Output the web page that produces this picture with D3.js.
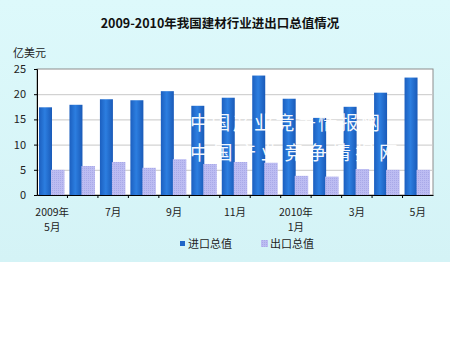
<!DOCTYPE html>
<html><head><meta charset="utf-8">
<script src="https://cdn.jsdelivr.net/npm/d3@7"></script>
<style>body{margin:0;background:#fff}svg{display:block}</style>
</head><body>
<svg id="c" width="450" height="355"></svg>
<script>
const months = ["2009-05","2009-06","2009-07","2009-08","2009-09","2009-10","2009-11","2009-12","2010-01","2010-02","2010-03","2010-04","2010-05"];
const importVals = [17.4,17.9,19.0,18.8,20.6,17.7,19.3,23.7,19.1,15.3,17.5,20.3,23.3];
const exportVals = [5.0,5.75,6.55,5.4,7.1,6.15,6.55,6.4,3.8,3.65,5.15,5.0,5.0];
const xLabels = [["2009年","5月"],null,["7月"],null,["9月"],null,["11月"],null,["2010年","1月"],null,["3月"],null,["5月"]];
const yTicks = [0,5,10,15,20,25];
const seriesNames = ["进口总值","出口总值"];
const title = "2009-2010年我国建材行业进出口总值情况";
const unit = "亿美元";
const watermark = ["中国产业竞争情报网","中国产业竞争情报网"];

const svg = d3.select("#c");
const font = "'Noto Sans CJK SC', 'DejaVu Sans', sans-serif";
const defs = svg.append("defs");
const bg = defs.append("linearGradient").attr("id","bg").attr("x1",0).attr("y1",0).attr("x2",0).attr("y2",1);
bg.append("stop").attr("offset","0%").attr("stop-color","#ddf9fb");
bg.append("stop").attr("offset","100%").attr("stop-color","#d4f3f6");
const bl = defs.append("linearGradient").attr("id","blue").attr("x1",0).attr("x2",1);
bl.append("stop").attr("offset","0%").attr("stop-color","#1c5fbf");
bl.append("stop").attr("offset","45%").attr("stop-color","#2c7ee0");
bl.append("stop").attr("offset","100%").attr("stop-color","#1a5ab8");
const pat = defs.append("pattern").attr("id","lav").attr("width",2).attr("height",2).attr("patternUnits","userSpaceOnUse");
pat.append("rect").attr("width",2).attr("height",2).attr("fill","#bcbcf2");
pat.append("rect").attr("width",1).attr("height",1).attr("fill","#a9a9e8");

svg.append("rect").attr("x",0).attr("y",0).attr("width",450).attr("height",262).attr("fill","url(#bg)");

const L=37, R=433, T=69, B=195;
const x = d3.scaleBand().domain(months).range([L,R]).padding(0);
const y = d3.scaleLinear().domain([0,25]).range([B,T]);

svg.append("rect").attr("x",L).attr("y",T).attr("width",R-L).attr("height",B-T).attr("fill","#fff").attr("stroke","#8c8c8c").attr("stroke-width",1);
svg.append("g").selectAll("line").data(yTicks.slice(1,-1)).join("line")
  .attr("x1",L).attr("x2",R).attr("y1",d=>y(d)+0.5).attr("y2",d=>y(d)+0.5)
  .attr("stroke","#c8c8c8");

const bw = x.bandwidth();
svg.append("g").selectAll("rect").data(months).join("rect")
  .attr("x",(d)=>x(d)+2).attr("y",(d,i)=>y(importVals[i])).attr("width",13)
  .attr("height",(d,i)=>B-y(importVals[i])).attr("fill","url(#blue)");
svg.append("g").selectAll("rect").data(months).join("rect")
  .attr("x",(d)=>x(d)+14).attr("y",(d,i)=>y(exportVals[i])).attr("width",13.5)
  .attr("height",(d,i)=>B-y(exportVals[i])).attr("fill","url(#lav)");

// axes
const yAxis = d3.axisLeft(y).tickValues(yTicks).tickSize(3).tickPadding(8);
const gy = svg.append("g").attr("transform",`translate(${L},0)`).call(yAxis);
gy.select(".domain").attr("stroke","#000");
gy.selectAll("text").attr("font-family",font).attr("font-size",11).attr("fill","#222");
const xAxis = d3.axisBottom(x).tickSize(0).tickFormat("");
const gx = svg.append("g").attr("transform",`translate(0,${B})`).call(xAxis);
gx.select(".domain").attr("stroke","#000");
svg.append("g").selectAll("line").data(months.slice(1)).join("line")
  .attr("x1",d=>x(d)).attr("x2",d=>x(d)).attr("y1",B).attr("y2",B+3).attr("stroke","#000");

months.forEach((m,i)=>{
  const lab = xLabels[i]; if(!lab) return;
  lab.forEach((s,j)=>svg.append("text").attr("text-anchor","middle").attr("font-family",font)
    .attr("font-size",10.5).attr("fill","#222").attr("x",x(m)+bw/2).attr("y",216+j*14.5).text(s));
});

svg.append("text").attr("x",220).attr("y",28).attr("text-anchor","middle").attr("font-family",font).attr("font-size",12.5).attr("font-weight","bold").attr("fill","#111").text(title);
svg.append("text").attr("x",13).attr("y",57).attr("font-family",font).attr("font-size",11).attr("fill","#222").text(unit);

// legend
const lg = svg.append("g").attr("font-family",font).attr("font-size",11).attr("fill","#222");
lg.append("rect").attr("x",180).attr("y",241).attr("width",5).attr("height",5).attr("fill","#1f66c8");
lg.append("text").attr("x",188).attr("y",247.5).text(seriesNames[0]);
lg.append("rect").attr("x",261).attr("y",240).attr("width",7).attr("height",7).attr("fill","url(#lav)");
lg.append("text").attr("x",270).attr("y",247.5).text(seriesNames[1]);

// watermark
const wm = svg.append("g").attr("font-family","'Noto Sans CJK SC', sans-serif").attr("fill","#fff").attr("font-size",19).attr("opacity",0.95);
wm.append("text").attr("x",190).attr("y",130).attr("textLength",190).text(watermark[0]);
wm.append("text").attr("x",190).attr("y",160).attr("textLength",208).text(watermark[1]);
</script>
</body></html>
